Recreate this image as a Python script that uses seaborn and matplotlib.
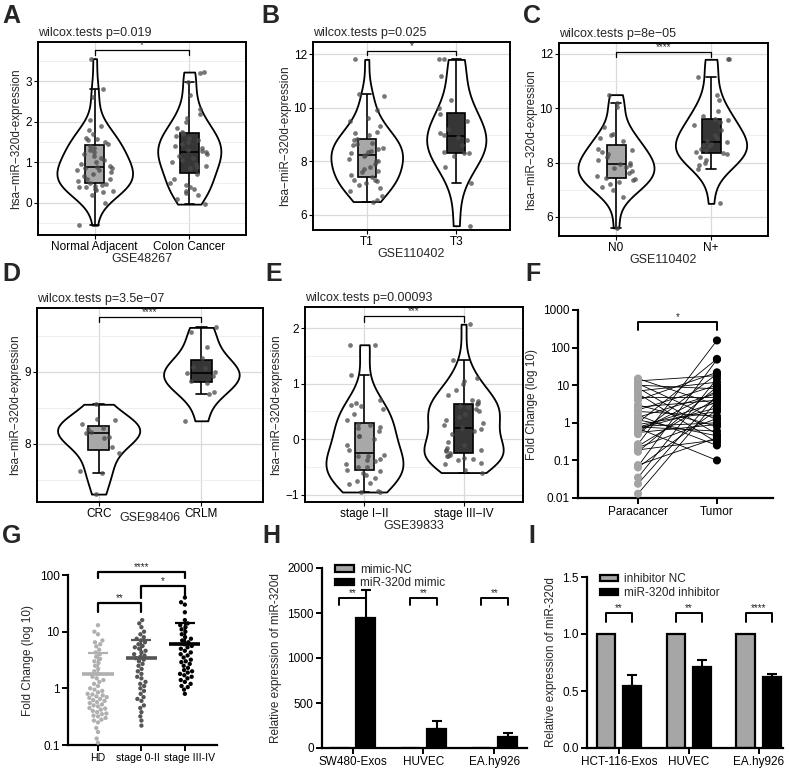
import numpy as np
import pandas as pd
import matplotlib
matplotlib.use("Agg")
import matplotlib.pyplot as plt
from matplotlib.ticker import NullLocator
from matplotlib.transforms import ScaledTranslation
import seaborn as sns

# ---- data ----
a_groups = ["Normal Adjacent", "Colon Cancer"]
a_normal = [-0.55, 0.0, 0.2, 0.27, 0.3, 0.32, 0.35, 0.38, 0.4, 0.42, 0.45, 0.47, 0.5, 0.55,
            0.58, 0.6, 0.65, 0.7, 0.75, 0.8, 0.82, 0.85, 0.87, 0.88, 0.9, 0.95, 1.0, 1.05, 1.1,
            1.15, 1.2, 1.25, 1.3, 1.35, 1.4, 1.45, 1.5, 1.55, 1.58, 1.6, 1.7, 1.8, 1.9, 2.05,
            2.6, 2.8, 3.55]
a_cancer = [-0.03, 0.1, 0.2, 0.25, 0.3, 0.35, 0.4, 0.45, 0.5, 0.6, 0.7, 0.85, 0.88, 0.9, 0.95,
            1.0, 1.05, 1.1, 1.15, 1.2, 1.25, 1.27, 1.3, 1.35, 1.4, 1.45, 1.5, 1.55, 1.6, 1.65,
            1.7, 1.72, 1.75, 1.85, 2.0, 2.1, 2.2, 2.3, 2.65, 2.97, 3.2, 3.22]

b_groups = ["T1", "T3"]
b_t1 = [6.5, 6.55, 6.7, 6.9, 7.0, 7.1, 7.2, 7.25, 7.3, 7.3, 7.4, 7.5, 7.6, 7.65, 7.7, 7.8, 7.9,
        8.0, 8.0, 8.1, 8.2, 8.25, 8.3, 8.35, 8.4, 8.45, 8.5, 8.6, 8.65, 8.7, 8.8, 8.85, 9.0,
        9.05, 9.1, 9.3, 9.5, 9.6, 9.9, 10.45, 10.5, 11.8]
b_t3 = [5.6, 7.2, 7.8, 8.2, 8.3, 8.3, 8.35, 8.6, 8.8, 8.9, 9.0, 9.05, 9.2, 9.5, 9.75, 10.0,
        10.3, 11.2, 11.8, 11.8]

c_groups = ["N0", "N+"]
c_n0 = [5.6, 6.75, 7.0, 7.1, 7.2, 7.3, 7.35, 7.4, 7.45, 7.5, 7.6, 7.7, 7.8, 7.85, 7.9, 7.95,
        8.0, 8.1, 8.2, 8.3, 8.4, 8.45, 8.5, 8.8, 8.9, 9.0, 9.05, 9.3, 10.05, 10.2, 10.5]
c_npos = [6.5, 7.75, 7.9, 8.0, 8.1, 8.2, 8.3, 8.35, 8.4, 8.45, 8.5, 8.6, 8.65, 8.7, 8.75, 8.8,
          8.9, 9.0, 9.2, 9.4, 9.5, 9.55, 9.6, 9.7, 9.9, 10.3, 10.5, 11.15, 11.8, 11.8]

d_groups = ["CRC", "CRLM"]
d_crc = [7.3, 7.6, 7.62, 7.87, 7.95, 8.08, 8.1, 8.15, 8.17, 8.2, 8.22, 8.27, 8.33, 8.35, 8.55]
d_crlm = [8.32, 8.7, 8.72, 8.85, 8.87, 8.95, 8.98, 9.0, 9.05, 9.07, 9.2, 9.35, 9.55, 9.62]

e_groups = ["stage I\u2212II", "stage III\u2212IV"]
e_early = [-0.95, -0.95, -0.93, -0.8, -0.78, -0.75, -0.7, -0.65, -0.6, -0.58, -0.55, -0.5, -0.5,
           -0.45, -0.4, -0.38, -0.35, -0.3, -0.3, -0.28, -0.2, -0.1, 0.0, 0.05, 0.05, 0.15, 0.2,
           0.22, 0.25, 0.28, 0.35, 0.45, 0.55, 0.6, 0.62, 0.65, 0.7, 1.15, 1.7, 1.7]
e_late = [-0.6, -0.55, -0.45, -0.42, -0.38, -0.35, -0.33, -0.3, -0.3, -0.28, -0.25, -0.22, -0.2,
          -0.2, -0.15, -0.1, -0.05, 0.1, 0.15, 0.18, 0.2, 0.25, 0.3, 0.35, 0.4, 0.45, 0.5, 0.55,
          0.58, 0.6, 0.63, 0.65, 0.68, 0.7, 0.8, 0.88, 1.0, 1.05, 1.1, 1.42, 2.07]

f_groups = ["Paracancer", "Tumor"]
f_para = [15, 13, 11, 10, 8.5, 7, 6, 5, 4, 3, 2.6, 2.2, 2.0, 1.6, 1.4, 1.2, 1.0, 0.9, 0.8, 0.78,
          0.75, 0.72, 0.7, 0.6, 0.55, 0.5, 0.27, 0.24, 0.22, 0.19, 0.17, 0.075, 0.07, 0.065,
          0.035, 0.024, 0.013]
f_tumor = [3, 18, 1.2, 8, 0.5, 12, 0.3, 5, 22, 0.8, 4, 10, 1.5, 0.25, 6, 0.45, 50, 2, 1.0, 0.6,
           3.5, 0.1, 2.5, 7, 0.9, 20, 155, 4.5, 1.3, 0.35, 9, 0.4, 48, 2.2, 15, 5.5, 3.8]

g_groups = ["HD", "stage 0-II", "stage III-IV"]
g_hd = [0.11, 0.13, 0.17, 0.2, 0.25, 0.27, 0.28, 0.3, 0.32, 0.33, 0.35, 0.36, 0.38, 0.4, 0.42,
        0.44, 0.45, 0.48, 0.5, 0.52, 0.55, 0.57, 0.6, 0.62, 0.65, 0.68, 0.7, 0.72, 0.75, 0.78,
        0.8, 0.85, 0.9, 0.95, 1.0, 1.1, 1.2, 1.3, 1.4, 1.5, 1.6, 1.8, 2.0, 2.2, 2.5, 2.8, 3.0,
        3.3, 3.6, 4.0, 4.3, 4.8, 5.5, 6.0, 6.5, 7.0, 9.0, 10.0, 13.0]
g_s02 = [0.22, 0.27, 0.32, 0.38, 0.45, 0.5, 0.6, 0.65, 0.7, 0.8, 0.9, 1.0, 1.1, 1.2, 1.3, 1.5,
         1.6, 1.8, 2.0, 2.2, 2.5, 2.7, 3.0, 3.2, 3.4, 3.6, 3.8, 4.0, 4.3, 4.6, 5.0, 5.3, 5.6,
         6.0, 6.5, 7.0, 7.5, 8.0, 9.0, 10.0, 12.0, 14.0, 16.0]
g_s34 = [0.8, 0.95, 1.05, 1.1, 1.2, 1.3, 1.4, 1.5, 1.6, 1.7, 1.8, 1.9, 2.0, 2.1, 2.3, 2.5, 2.7,
         2.9, 3.0, 3.2, 3.5, 3.8, 4.0, 4.3, 4.6, 5.0, 5.3, 5.6, 6.0, 6.5, 7.0, 7.5, 8.0, 9.0,
         10.0, 11.0, 12.0, 13.0, 14.0, 16.0, 22.0, 30.0, 33.0, 40.0]
g_means = [1.8, 3.5, 6.0]
g_upper = [4.2, 7.0, 14.0]

h_cells = ["SW480-Exos", "HUVEC", "EA.hy926"]
h_treats = ["mimic-NC", "miR-320d mimic"]
h_nc = [1, 1, 1]
h_mimic = [1450, 215, 120]
h_mimic_sd = [310, 85, 45]

i_cells = ["HCT-116-Exos", "HUVEC", "EA.hy926"]
i_treats = ["inhibitor NC", "miR-320d inhibitor"]
i_nc = [1.0, 1.0, 1.0]
i_inh = [0.54, 0.71, 0.62]
i_inh_sd = [0.10, 0.06, 0.025]

sns.set_theme(style="white")
plt.rcParams["font.family"] = ["Liberation Sans", "DejaVu Sans"]
np.random.seed(7)

W, H = 790, 768
fig = plt.figure(figsize=(W / 100, H / 100), dpi=100)


def add_ax(x1, y1, x2, y2):
    return fig.add_axes([x1 / W, 1 - y2 / H, (x2 - x1) / W, (y2 - y1) / H])


def letter(x, y, s):
    fig.text(x / W, 1 - y / H, s, ha="left", va="top", fontsize=18, fontweight="bold")


def violin_panel(ax, groups, vals, title, xlabel, ylim, major, minor, br, stars, xpad=0):
    df = pd.DataFrame({"g": np.repeat(groups, [len(v) for v in vals]),
                       "v": np.concatenate(vals)})
    ax.set_axisbelow(True)
    sns.violinplot(data=df, x="g", y="v", order=groups, cut=0, inner=None, color="white",
                   linecolor="black", linewidth=1.3, width=0.8, saturation=1, ax=ax)
    sns.boxplot(data=df, x="g", y="v", hue="g", order=groups, hue_order=groups,
                palette=["#a8a8a8", "#363636"], width=0.2, showfliers=False, saturation=1,
                linecolor="black", linewidth=1.2, legend=False, ax=ax)
    sns.stripplot(data=df, x="g", y="v", order=groups, color="#4a4a4a", alpha=0.75,
                  size=3.4, jitter=0.2, ax=ax)
    ax.set_xlim(-0.6, 1.6)
    ax.set_ylim(*ylim)
    ax.set_yticks(major)
    ax.set_yticks(minor, minor=True)
    ax.grid(True, which="major", color="#dadada", lw=0.9)
    ax.grid(True, which="minor", axis="y", color="#ebebeb", lw=0.6)
    ax.tick_params(which="major", length=3, width=0.8, labelsize=8.5, pad=1.5,
                   bottom=True, left=True, colors="black")
    ax.tick_params(which="minor", length=0)
    for sp in ax.spines.values():
        sp.set_visible(True)
        sp.set_color("black")
        sp.set_linewidth(1.4)
    ax.set_title(title, loc="left", fontsize=9, pad=4)
    ax.set_xlabel(xlabel, fontsize=9, labelpad=xpad)
    ax.set_ylabel("hsa\u2212miR\u2212320d-expression", fontsize=8.5, labelpad=2)
    top, leg = br
    ax.plot([0, 0, 1, 1], [leg, top, top, leg], color="black", lw=0.9)
    ax.text(0.5, top, stars, ha="center", va="bottom", fontsize=7)


def prism(ax):
    sns.despine(ax=ax)
    for side in ["left", "bottom"]:
        ax.spines[side].set_linewidth(1.6)
        ax.spines[side].set_color("black")
    ax.tick_params(which="major", direction="out", length=4, width=1.4, labelsize=8.5,
                   pad=2, bottom=True, left=True, colors="black")


def bracket(ax, x1, x2, top, leg, stars, lw=1.4, fs=7):
    ax.plot([x1, x1, x2, x2], [leg, top, top, leg], color="black", lw=lw, clip_on=False)
    ax.text((x1 + x2) / 2, top, stars, ha="center", va="bottom", fontsize=fs)


# ---- A-E: violin panels ----
violin_panel(add_ax(38, 42, 246, 235), a_groups, [a_normal, a_cancer],
             "wilcox.tests p=0.019", "GSE48267", (-0.79, 3.96), [0, 1, 2, 3],
             [-0.5, 0.5, 1.5, 2.5, 3.5], (3.76, 3.63), "*")
violin_panel(add_ax(313, 42, 510, 230), b_groups, [b_t1, b_t3],
             "wilcox.tests p=0.025", "GSE110402", (5.44, 12.45), [6, 8, 10, 12],
             [7, 9, 11], (12.12, 11.96), "*")
violin_panel(add_ax(559, 43, 768, 236), c_groups, [c_n0, c_npos],
             "wilcox.tests p=8e\u221205", "GSE110402", (5.3, 12.4), [6, 8, 10, 12],
             [7, 9, 11], (12.08, 11.9), "****")
violin_panel(add_ax(37, 308, 263, 502), d_groups, [d_crc, d_crlm],
             "wilcox.tests p=3.5e\u221207", "GSE98406", (7.19, 9.89), [8, 9],
             [7.5, 8.5, 9.5], (9.77, 9.70), "****", xpad=-6)
violin_panel(add_ax(305, 307, 523, 502), e_groups, [e_early, e_late],
             "wilcox.tests p=0.00093", "GSE39833", (-1.13, 2.38), [-1, 0, 1, 2],
             [-0.5, 0.5, 1.5], (2.22, 2.11), "***")

# ---- F: paired plot ----
ax = add_ax(578, 310, 773, 498)
n = len(f_para)
dff = pd.DataFrame({"pair": np.tile(np.arange(n), 2),
                    "x": np.repeat([0, 1], n),
                    "g": np.repeat(f_groups, n),
                    "v": f_para + f_tumor})
ax.set_yscale("log")
sns.lineplot(data=dff, x="x", y="v", units="pair", estimator=None, color="black", lw=0.6, ax=ax)
sns.scatterplot(data=dff, x="x", y="v", hue="g", palette=["#a3a3a3", "black"], s=34,
                edgecolor="none", legend=False, zorder=3, ax=ax)
ax.set_ylim(0.01, 1000)
ax.set_yticks([0.01, 0.1, 1, 10, 100, 1000], ["0.01", "0.1", "1", "10", "100", "1000"])
ax.yaxis.set_minor_locator(NullLocator())
ax.set_xlim(-0.76, 1.71)
ax.set_xticks([0, 1], f_groups)
ax.set_xlabel("")
ax.set_ylabel("Fold Change (log 10)", fontsize=8.5)
prism(ax)
bracket(ax, 0, 1, 480, 290, "*")

# ---- G: scatter dot plot ----
ax = add_ax(68, 575, 217, 745)
dfg = pd.DataFrame({"g": np.repeat(g_groups, [len(g_hd), len(g_s02), len(g_s34)]),
                    "v": g_hd + g_s02 + g_s34})
ax.set_yscale("log")
g_colors = ["#b0b0b0", "#555555", "black"]
sns.swarmplot(data=dfg, x="g", y="v", hue="g", order=g_groups, hue_order=g_groups,
              palette=g_colors, size=3.1, legend=False, ax=ax)
for i, (m, u, c) in enumerate(zip(g_means, g_upper, g_colors)):
    ax.hlines(m, i - 0.36, i + 0.36, color=c, lw=2.6, zorder=4)
    ax.errorbar(i, m, yerr=[[0], [u - m]], color=c, capsize=7, lw=1.6, capthick=1.6,
                zorder=4)
ax.set_ylim(0.1, 100)
ax.set_yticks([0.1, 1, 10, 100], ["0.1", "1", "10", "100"])
ax.yaxis.set_minor_locator(NullLocator())
ax.set_xlim(-0.69, 2.74)
ax.set_xlabel("")
ax.set_ylabel("Fold Change (log 10)", fontsize=8.5)
prism(ax)
ax.tick_params(axis="x", labelsize=7.6, pad=1.5)
# nudge the crowded category labels apart, as in the original layout
for lab, dx in zip(ax.get_xticklabels(), [0, -3, 5]):
    lab.set_transform(lab.get_transform() + ScaledTranslation(dx / 100, 0, fig.dpi_scale_trans))
bracket(ax, 0, 1, 32, 22, "**", lw=1.6)
bracket(ax, 1, 2, 63, 40, "*", lw=1.6)
bracket(ax, 0, 2, 112, 88, "****", lw=1.6)


# ---- H, I: grouped bars ----
def bar_panel(ax, cells, treats, nc, trt, sd, ylim, yticks, ylabels, br, stars, xlim):
    df = pd.DataFrame({"cell": cells * 2, "treat": np.repeat(treats, 3), "v": nc + trt})
    sns.barplot(data=df, x="cell", y="v", hue="treat", order=cells, hue_order=treats,
                palette=["#a6a6a6", "black"], edgecolor="black", linewidth=1.6,
                saturation=1, width=0.75, gap=0.3, errorbar=None, ax=ax)
    bars_nc = ax.containers[0]
    bars_t = ax.containers[1]
    for b1, b2, m, s, st in zip(bars_nc, bars_t, trt, sd, stars):
        x1 = b1.get_x() + b1.get_width() / 2
        x2 = b2.get_x() + b2.get_width() / 2
        ax.errorbar(x2, m, yerr=[[0], [s]], color="black", capsize=3.5, lw=1.5,
                    capthick=1.5, zorder=4)
        bracket(ax, x1, x2, br[0], br[1], st)
    ax.set_ylim(*ylim)
    ax.set_yticks(yticks, ylabels)
    ax.set_xlim(*xlim)
    ax.set_xlabel("")
    ax.set_ylabel("Relative expression of miR-320d", fontsize=8.5)
    prism(ax)
    handles, labels = ax.get_legend_handles_labels()
    ax.legend(handles, labels, loc="upper left", bbox_to_anchor=(0.04, 1.05), frameon=False,
              fontsize=8.5, handlelength=1.6, handleheight=0.45, labelspacing=0.15,
              handletextpad=0.5, borderaxespad=0)


bar_panel(add_ax(322, 568, 527, 748), h_cells, h_treats, h_nc, h_mimic, h_mimic_sd,
          (0, 2000), [0, 500, 1000, 1500, 2000], ["0", "500", "1000", "1500", "2000"],
          (1667, 1589), ["**", "**", "**"], (-0.43, 2.46))
bar_panel(add_ax(587, 577, 783, 748), i_cells, i_treats, i_nc, i_inh, i_inh_sd,
          (0, 1.5), [0, 0.5, 1.0, 1.5], ["0.0", "0.5", "1.0", "1.5"],
          (1.18, 1.105), ["**", "**", "****"], (-0.46, 2.35))

for x, y, s in [(2, 4, "A"), (261, 4, "B"), (523, 4, "C"),
                (2, 262, "D"), (265, 262, "E"), (525, 262, "F"),
                (2, 524, "G"), (262, 524, "H"), (528, 524, "I")]:
    letter(x, y, s)

fig.savefig("out.png", dpi=100)
